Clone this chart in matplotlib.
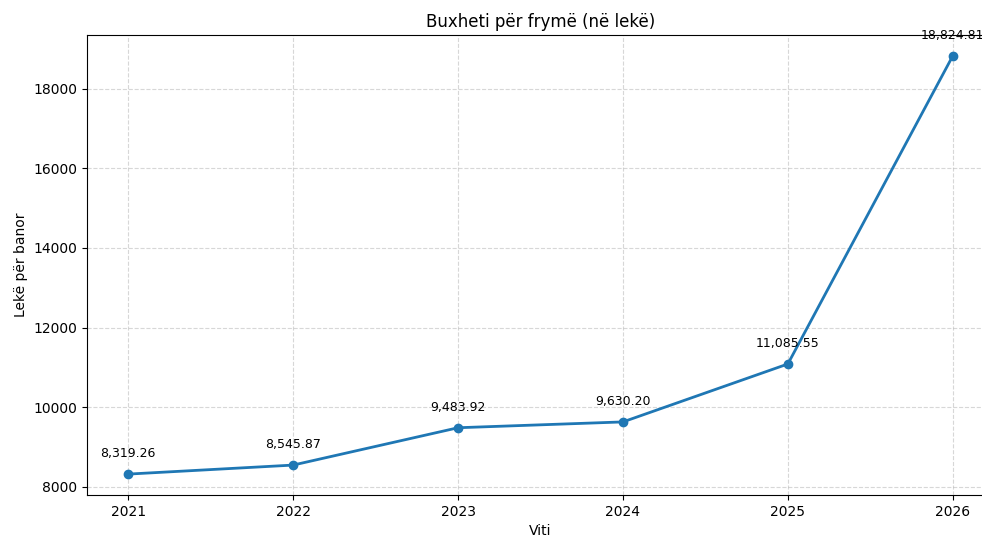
import matplotlib.pyplot as plt

# buxheti per fryme sipas viteve
vitet = [2021, 2022, 2023, 2024, 2025, 2026]
leke_per_banor = [8319.26, 8545.87, 9483.92, 9630.20, 11085.55, 18824.81]

fig = plt.figure(figsize=(9.82, 5.37), dpi=100)
ax = fig.add_axes([0.0886, 0.0782, 0.9236, 0.8566])

ax.plot(vitet, leke_per_banor, marker='o', linewidth=2, markersize=6)

for x, y in zip(vitet, leke_per_banor):
    ax.annotate(f"{y:,.2f}", (x, y), textcoords="offset points", xytext=(0, 12),
                ha='center', fontsize=9)

ax.set_title('Buxheti për frymë (në lekë)')
ax.set_xlabel('Viti')
ax.set_ylabel('Lekë për banor')
ax.set_xticks(vitet)
ax.grid(True, linestyle='--', alpha=0.5)

fig.savefig('out.png', dpi=100)
